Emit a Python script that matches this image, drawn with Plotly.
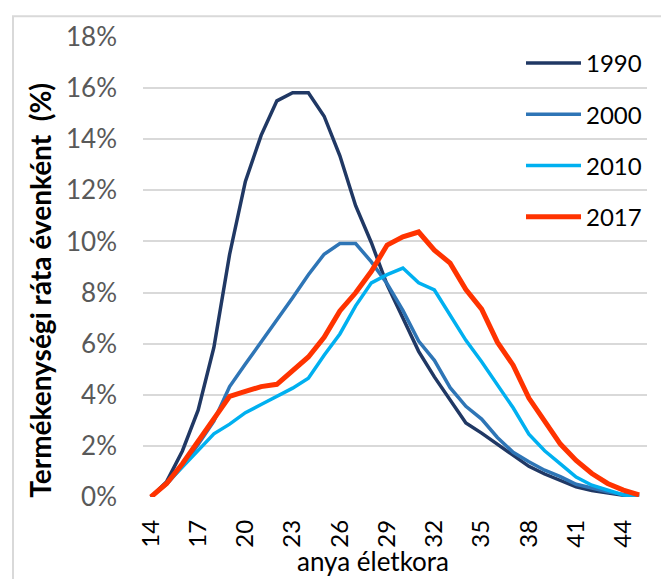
import plotly.graph_objects as go

ages = list(range(14, 46))

rate_1990 = [0.0, 0.6, 1.8, 3.4, 5.85, 9.5, 12.35, 14.15, 15.5, 15.82, 15.82, 14.9, 13.35, 11.4, 9.95, 8.3,
             7.0, 5.7, 4.7, 3.8, 2.9, 2.5, 2.07, 1.6, 1.2, 0.9, 0.65, 0.4, 0.25, 0.15, 0.07, 0.03]
rate_2000 = [0.0, 0.5, 1.2, 2.05, 2.97, 4.32, 5.2, 6.05, 6.9, 7.8, 8.7, 9.5, 9.92, 9.92, 9.2, 8.35,
             7.3, 6.1, 5.35, 4.28, 3.55, 3.05, 2.33, 1.75, 1.38, 1.05, 0.8, 0.5, 0.35, 0.2, 0.1, 0.04]
rate_2010 = [0.0, 0.53, 1.17, 1.8, 2.47, 2.85, 3.3, 3.62, 3.94, 4.26, 4.65, 5.55, 6.38, 7.48, 8.38, 8.7,
             8.96, 8.38, 8.1, 7.1, 6.13, 5.29, 4.39, 3.49, 2.46, 1.81, 1.3, 0.78, 0.46, 0.27, 0.08, 0.03]
rate_2017 = [0.0, 0.53, 1.3, 2.2, 3.04, 3.94, 4.13, 4.32, 4.41, 4.97, 5.48, 6.25, 7.28, 7.99, 8.83, 9.86,
             10.18, 10.37, 9.66, 9.15, 8.12, 7.35, 6.06, 5.16, 3.87, 2.97, 2.07, 1.43, 0.92, 0.53, 0.27, 0.08]

series = [
    ("1990", rate_1990, "#203864", 3.5),
    ("2000", rate_2000, "#2E75B6", 3.5),
    ("2010", rate_2010, "#00B0F0", 3.5),
    ("2017", rate_2017, "#FF3300", 5),
]

x_ticks = list(range(14, 46, 3))
y_ticks = [0, 0.02, 0.04, 0.06, 0.08, 0.10, 0.12, 0.14, 0.16, 0.18]

FONT = "Lato, 'Open Sans', sans-serif"
PW, PH = 504, 466  # plot area size in px
OFF = 8            # default page body margin

fig = go.Figure()
for name, vals, color, width in series:
    fig.add_trace(go.Scatter(
        x=ages, y=[v / 100 for v in vals], mode="lines", name=name,
        line=dict(color=color, width=width), legendgroup=name,
    ))

fig.update_layout(
    width=669 - OFF, height=579 - OFF,
    margin=dict(l=143 - OFF, r=22, t=31 - OFF, b=82),
    paper_bgcolor="white", plot_bgcolor="white",
    font=dict(family=FONT, size=20, color="#000000"),
    showlegend=True,
    legend=dict(
        x=1.0, y=(497 - 35) / PH, xanchor="right", yanchor="top",
        font=dict(size=24, color="#000000"),
        bgcolor="rgba(255,255,255,0)",
        tracegroupgap=17, itemwidth=55,
    ),
    xaxis=dict(
        range=[13.5, 45.5], tickmode="array", tickvals=x_ticks,
        ticktext=[str(t) for t in x_ticks], tickangle=-90,
        showgrid=False, zeroline=False, showline=False, ticks="",
        tickfont=dict(size=24, color="#000000"), ticklabelstandoff=17,
    ),
    yaxis=dict(
        range=[0, 0.18], tickmode="array", tickvals=y_ticks,
        ticktext=[f"{round(v*100)}%" for v in y_ticks],
        showgrid=True, gridcolor="#D9D9D9", gridwidth=1.5,
        zeroline=False, showline=False, ticks="",
        tickfont=dict(size=26, color="#595959"), ticklabelstandoff=25,
    ),
    annotations=[
        dict(text="<b>Termékenységi ráta évenként  (%)</b>", textangle=-90,
             xref="paper", yref="paper", x=(40 - 143) / PW, y=(497 - 288) / PH,
             xanchor="center", yanchor="middle", showarrow=False,
             font=dict(size=28, color="#000000")),
        dict(text="anya életkora", xref="paper", yref="paper",
             x=(373 - 143) / PW, y=(497 - 562) / PH,
             xanchor="center", yanchor="middle", showarrow=False,
             font=dict(size=26, color="#000000")),
    ],
    shapes=[dict(type="rect", xref="paper", yref="paper",
                 x0=(13 - 143) / PW, x1=1.2, y0=-1, y1=(497 - 10) / PH,
                 line=dict(color="#D9D9D9", width=2), layer="below")],
)

fig.write_html("out.html")
